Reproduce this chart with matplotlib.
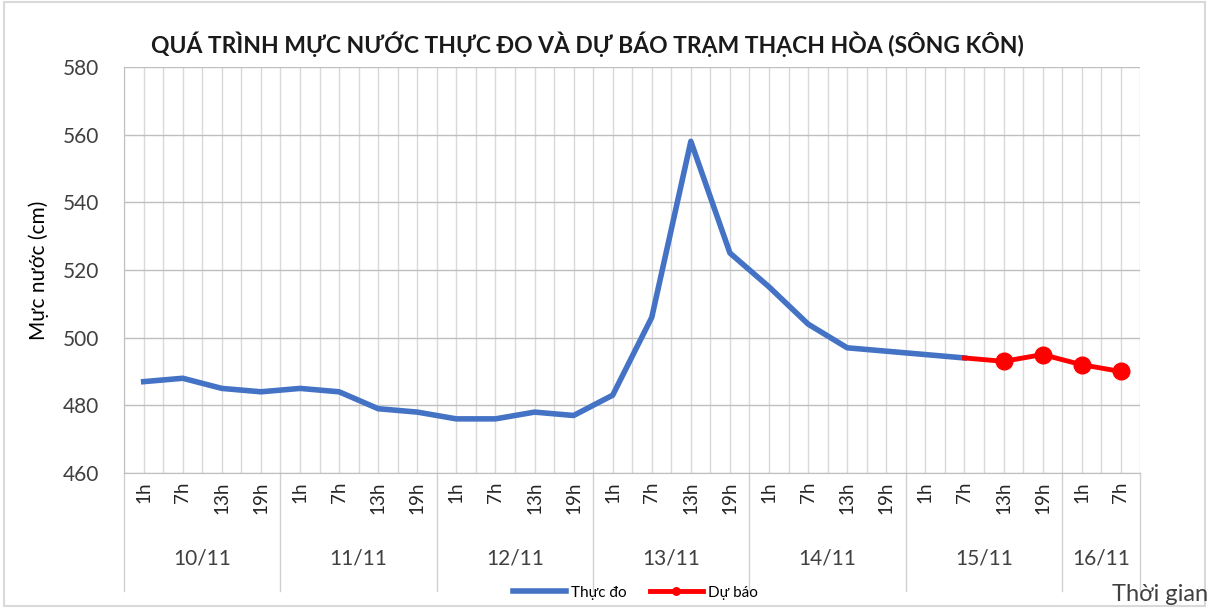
import numpy as np
import matplotlib
matplotlib.use("Agg")
import matplotlib.pyplot as plt
from matplotlib.patches import Rectangle
import matplotlib.transforms as mtransforms

plt.rcParams['font.family'] = ['Lato', 'Noto Sans', 'DejaVu Sans']

# du lieu
ngay = ['10/11', '11/11', '12/11', '13/11', '14/11', '15/11', '16/11']
gio_moi_ngay = [['1h', '7h', '13h', '19h']] * 6 + [['1h', '7h']]
thuc_do = [487, 488, 485, 484, 485, 484, 479, 478, 476, 476, 478, 477,
           483, 506, 558, 525, 515, 504, 497, 496, 495, 494]
du_bao = [494, 493, 495, 492, 490]   # bat dau tu 15/11 7h

gio = [g for nhom in gio_moi_ngay for g in nhom]
n = len(gio)
x = np.arange(n)

fig = plt.figure(figsize=(12.17, 6.08), dpi=100)
ax = fig.add_axes([0.102, 0.222, 0.835, 0.668])

xanh = '#4472C4'
do = '#FF0000'
ax.plot(x[:len(thuc_do)], thuc_do, color=xanh, lw=4, solid_joinstyle='round', label='Thực đo', zorder=3)
x_db = x[n - len(du_bao):]
ax.plot(x_db, du_bao, color=do, lw=3.5, marker='o', markersize=12,
        markevery=list(range(1, len(du_bao))), label='Dự báo', zorder=4)

ax.set_xlim(-0.5, n - 0.5)
ax.set_ylim(460, 580)
ax.set_yticks(np.arange(460, 581, 20))
ax.set_xticks(x)
ax.set_xticklabels(gio, rotation=90, fontsize=13.5, color='#262626')
ax.set_xticks(np.arange(-0.5, n, 1), minor=True)
ax.tick_params(axis='x', which='both', length=0, pad=6)
ax.tick_params(axis='y', length=0, labelsize=15, pad=18, labelcolor='#404040')
ax.grid(True, axis='x', which='both', color='#D9D9D9', lw=1)
ax.grid(True, axis='y', which='major', color='#BFBFBF', lw=1)
ax.set_axisbelow(True)
for s in ['top', 'right']:
    ax.spines[s].set_visible(False)
for s in ['left', 'bottom']:
    ax.spines[s].set_color('#BFBFBF')

ax.set_ylabel('Mực nước (cm)', fontsize=15, labelpad=10)

# nhan ngay va duong phan cach
trans = mtransforms.blended_transform_factory(ax.transData, ax.transAxes)
bien = [-0.5]
for nhom in gio_moi_ngay:
    bien.append(bien[-1] + len(nhom))
for i, d in enumerate(ngay):
    ax.text((bien[i] + bien[i + 1]) / 2, -0.21, d, transform=trans,
            ha='center', va='center', fontsize=15, color='#404040')
for b in bien:
    ax.plot([b, b], [0, -0.29], transform=trans, color='#D0D0D0', lw=1, clip_on=False)

fig.suptitle('QUÁ TRÌNH MỰC NƯỚC THỰC ĐO VÀ DỰ BÁO TRẠM THẠCH HÒA (SÔNG KÔN)',
             x=0.483, y=0.948, fontsize=16.5, fontweight='bold', color='#1a1a1a')

fig.legend(loc='center', bbox_to_anchor=(0.522, 0.025), ncol=2, frameon=False,
           fontsize=11, handlelength=3.5, columnspacing=1.5, markerscale=0.45,
           handletextpad=0.3)
fig.text(0.993, 0.022, 'Thời gian', ha='right', va='center', fontsize=17, color='#404040')

fig.patches.append(Rectangle((0.003, 0.003), 0.987, 0.994, transform=fig.transFigure,
                             fill=False, ec='#D9D9D9', lw=1.5))

fig.savefig('out.png', dpi=100)
